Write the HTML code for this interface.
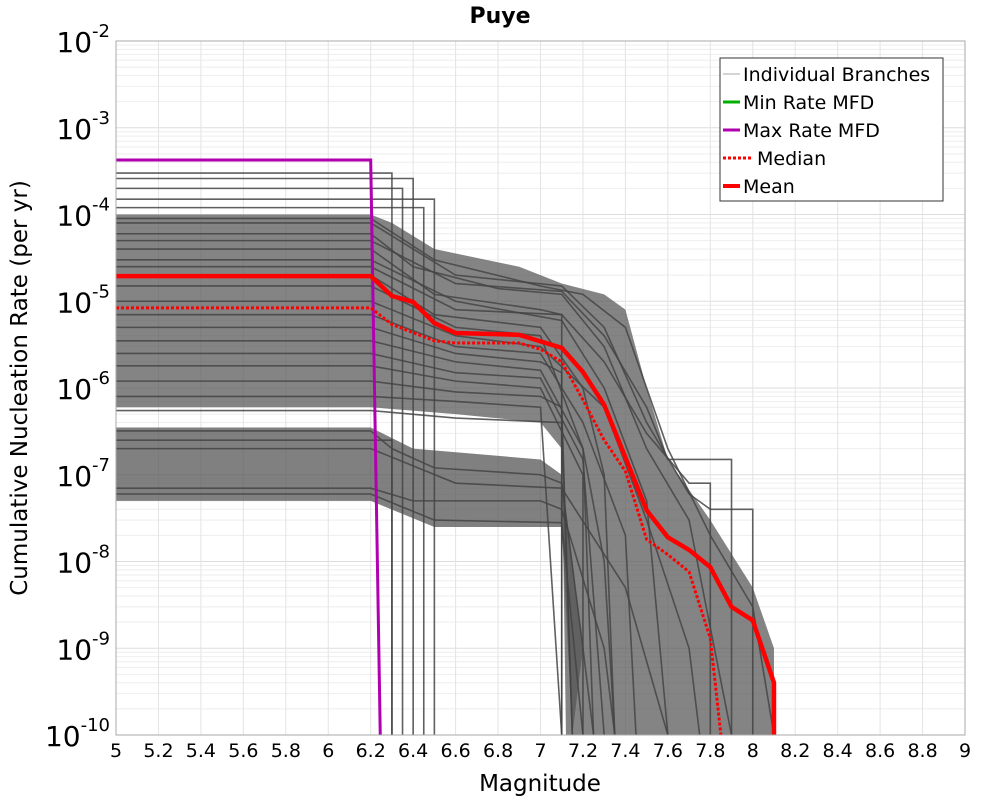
<!DOCTYPE html>
<html><head><meta charset="utf-8">
<style>
html,body{margin:0;padding:0;background:#fff;}
svg{display:block;font-family:"DejaVu Sans","Liberation Sans",sans-serif;}
</style></head>
<body>
<svg id="chart" width="1000" height="800" viewBox="0 0 1000 800" xmlns="http://www.w3.org/2000/svg">
<rect width="1000" height="800" fill="#fff"/>
<text x="500" y="23" text-anchor="middle" font-size="22" font-weight="bold">Puye</text>
<g id="grid"></g>
<g id="bands"></g>
<g id="branches"></g>
<g id="series"></g>
<rect x="116" y="41" width="849" height="694" fill="none" stroke="#aaa" stroke-width="1"/>
<g id="yticks"></g>
<g id="xticks"></g>
<text x="540" y="791" text-anchor="middle" font-size="23">Magnitude</text>
<text transform="translate(27,388) rotate(-90)" text-anchor="middle" font-size="23">Cumulative Nucleation Rate (per yr)</text>
<g>
<rect x="720" y="58" width="223" height="143" fill="#fff" stroke="#333" stroke-width="1"/>
<g><line x1="723" y1="74" x2="740" y2="74" stroke="#aaa" stroke-width="1"/><text x="743" y="81" font-size="19">Individual Branches</text></g>
<g><line x1="723" y1="102" x2="740" y2="102" stroke="#00b000" stroke-width="3"/><text x="743" y="109" font-size="19">Min Rate MFD</text></g>
<g><line x1="723" y1="130" x2="740" y2="130" stroke="#b000b0" stroke-width="3"/><text x="743" y="137" font-size="19">Max Rate MFD</text></g>
<g><line x1="723" y1="158" x2="752" y2="158" stroke="#f00" stroke-width="3" stroke-dasharray="3,2"/><text x="757" y="165" font-size="19">Median</text></g>
<g><line x1="723" y1="186" x2="740" y2="186" stroke="#f00" stroke-width="4"/><text x="743" y="193" font-size="19">Mean</text></g>
</g>
</svg>
<script>
const xTicks=[5,5.2,5.4,5.6,5.8,6,6.2,6.4,6.6,6.8,7,7.2,7.4,7.6,7.8,8,8.2,8.4,8.6,8.8,9];
const yExps=[-2,-3,-4,-5,-6,-7,-8,-9,-10];
const meanMag=[5,6.2,6.3,6.4,6.5,6.6,6.9,7.1,7.2,7.3,7.5,7.6,7.7,7.8,7.9,8.0,8.1,8.1];
const meanRate=[1.95e-5,1.95e-5,1.15e-5,9.8e-6,5.6e-6,4.3e-6,4.1e-6,2.9e-6,1.53e-6,6.4e-7,3.9e-8,1.9e-8,1.36e-8,8.6e-9,3.0e-9,2.1e-9,4.0e-10,1e-10];
const medMag=[5,6.2,6.3,6.5,6.6,6.9,7.0,7.1,7.2,7.3,7.4,7.5,7.6,7.7,7.8,7.85];
const medRate=[8.4e-6,8.4e-6,5.4e-6,3.5e-6,3.3e-6,3.3e-6,2.8e-6,2.0e-6,7.3e-7,2.5e-7,1.1e-7,1.8e-8,1.2e-8,7.6e-9,1.3e-9,1e-10];
const maxMag=[5,6.2,6.245];
const maxRate=[4.25e-4,4.25e-4,1e-10];
const mainBandTop=[[5,1e-4],[6.2,1e-4],[6.3,8e-5],[6.5,4e-5],[6.9,2.5e-5],[7.1,1.6e-5],[7.3,1.2e-5],[7.4,8e-6],[7.5,1e-6],[7.6,1.5e-7],[7.8,3e-8],[8.0,5e-9],[8.1,1e-9],[8.1,1e-10]];
const mainBandBottom=[[7.9,1e-10],[7.12,1e-10],[7.1,2e-7],[7.0,4e-7],[6.6,5e-7],[6.2,6e-7],[5,6e-7]];
const lowBandTop=[[5,3.5e-7],[6.2,3.5e-7],[6.4,2e-7],[7.0,1.5e-7],[7.1,1e-7],[7.2,1e-9]];
const lowBandBottom=[[7.15,1e-10],[7.1,2.5e-8],[6.5,2.5e-8],[6.2,5e-8],[5,5e-8]];
const branches=[
[[5,3e-4],[6.3,3e-4],[6.3,1e-10]],
[[5,2.6e-4],[6.4,2.6e-4],[6.4,1e-10]],
[[5,2e-4],[6.35,2e-4],[6.35,1e-10]],
[[5,1.5e-4],[6.5,1.5e-4],[6.5,1e-10]],
[[5,1.2e-4],[6.45,1.2e-4],[6.45,1e-10]],
[[5,9e-5],[6.2,9e-5],[6.5,3e-5],[7.0,1.5e-5],[7.2,1.2e-5],[7.4,5e-6],[7.6,2e-7],[7.8,2e-8],[8.0,3e-9],[8.1,1e-10]],
[[5,6e-5],[6.2,6e-5],[6.4,2.5e-5],[6.8,1.4e-5],[7.1,1.2e-5],[7.3,3e-6],[7.5,2e-7],[7.7,3e-8],[7.9,1e-10]],
[[5,4e-5],[6.2,4e-5],[6.5,1.2e-5],[7.0,8e-6],[7.1,7e-6],[7.1,1e-10]],
[[5,3e-5],[6.2,3e-5],[6.6,1e-5],[7.1,6e-6],[7.3,1e-6],[7.5,5e-8],[7.6,1e-10]],
[[5,2e-5],[6.2,2e-5],[6.5,7e-6],[7.0,5e-6],[7.2,1e-6],[7.3,1e-7],[7.35,1e-10]],
[[5,1.5e-5],[6.2,1.5e-5],[6.6,5e-6],[7.0,4e-6],[7.2,2e-7],[7.25,1e-10]],
[[5,1e-5],[6.2,1e-5],[6.6,4e-6],[7.0,3e-6],[7.3,6e-7],[7.5,3e-8],[7.7,1e-9],[7.75,1e-10]],
[[5,7e-6],[6.2,7e-6],[6.6,3e-6],[7.0,2.5e-6],[7.2,4e-7],[7.4,2e-8],[7.45,1e-10]],
[[5,5e-6],[6.2,5e-6],[6.6,2.5e-6],[7.0,2e-6],[7.1,1.5e-6],[7.1,1e-10]],
[[5,3.5e-6],[6.2,3.5e-6],[6.6,2e-6],[7.0,1.6e-6],[7.2,2e-7],[7.3,1e-8],[7.35,1e-10]],
[[5,2.5e-6],[6.2,2.5e-6],[6.6,1.5e-6],[7.0,1.3e-6],[7.2,1.5e-7],[7.3,1e-10]],
[[5,1.8e-6],[6.2,1.8e-6],[6.6,1.2e-6],[7.0,1e-6],[7.2,1e-7],[7.2,1e-10]],
[[5,1.2e-6],[6.2,1.2e-6],[6.6,9e-7],[7.0,8e-7],[7.1,6e-7],[7.15,1e-10]],
[[5,8e-7],[6.2,8e-7],[6.6,7e-7],[7.0,6e-7],[7.1,1e-10]],
[[5,5.5e-7],[6.2,5.5e-7],[6.6,4.5e-7],[7.1,4e-7],[7.15,1e-10]],
[[5,8e-5],[6.2,8e-5],[6.6,2e-5],[7.1,1.5e-5],[7.3,5e-6],[7.5,4e-7],[7.7,6e-8],[7.8,4e-8],[8.0,4e-8],[8.0,1e-10]],
[[5,5e-5],[6.2,5e-5],[6.6,1.6e-5],[7.1,1.3e-5],[7.3,4e-6],[7.5,6e-7],[7.6,1.5e-7],[7.9,1.5e-7],[7.9,1e-10]],
[[5,2.5e-5],[6.2,2.5e-5],[6.6,8e-6],[7.1,7e-6],[7.3,2e-6],[7.5,3e-7],[7.7,8e-8],[7.8,8e-8],[7.8,1e-10]],
[[5,3.2e-7],[6.2,3.2e-7],[6.3,2e-7],[6.5,1.2e-7],[7.0,1e-7],[7.1,8e-8],[7.2,1e-9],[7.25,1e-10]],
[[5,2.5e-7],[6.3,2.5e-7],[6.3,1e-10]],
[[5,7e-8],[6.2,7e-8],[6.4,5e-8],[7.0,5e-8],[7.1,4e-8],[7.3,1e-9],[7.35,1e-10]],
[[5,6e-8],[6.2,6e-8],[6.5,3e-8],[7.1,2.8e-8],[7.2,1e-10]],
[[5,2e-7],[6.2,2e-7],[6.6,8e-8],[7.1,7e-8],[7.4,5e-9],[7.6,1e-10]]
];
const NS='http://www.w3.org/2000/svg';
const X0=116,X1=965,Y0=41,Y1=735;
function xs(m){return X0+(m-5)/(9-5)*(X1-X0);}
function ys(r){return Y0+(-2-Math.log10(r))/8*(Y1-Y0);}
function mk(tag,parent,attrs){const e=document.createElementNS(NS,tag);for(const k in attrs)e.setAttribute(k,attrs[k]);parent.appendChild(e);return e;}
const grid=document.getElementById('grid');
for(let d=-10;d<-2;d++){for(let k=1;k<10;k++){const y=ys(k*Math.pow(10,d));const l=mk('line',grid,{x1:X0,x2:X1,y1:y,y2:y,stroke:k===1?'#ddd':'#eee','stroke-width':1});

}}
xTicks.forEach(t=>{const x=xs(t);const l=mk('line',grid,{x1:x,x2:x,y1:Y0,y2:Y1,stroke:'#e4e4e4','stroke-width':1});

});
const bands=document.getElementById('bands');
function poly(top,bot,op,name){const pts=top.concat(bot).map(p=>xs(p[0])+','+ys(p[1])).join(' ');const e=mk('polygon',bands,{points:pts,fill:'#555','fill-opacity':op});

}
poly(mainBandTop,mainBandBottom,0.72,'main-branch-band');
poly(lowBandTop,lowBandBottom,0.75,'low-branch-band');
const bg=document.getElementById('branches');
branches.forEach(b=>{const e=mk('polyline',bg,{points:b.map(p=>xs(p[0])+','+ys(p[1])).join(' '),fill:'none',stroke:'#444','stroke-opacity':0.85,'stroke-width':1.6});

});
const sg=document.getElementById('series');
function line(ms,rs,attrs,name){const pts=ms.map((m,i)=>xs(m)+','+ys(rs[i])).join(' ');const e=mk('polyline',sg,Object.assign({points:pts,fill:'none'},attrs));

}
line(maxMag,maxRate,{stroke:'#b000b0','stroke-width':3},'max-rate-line');
line(medMag,medRate,{stroke:'#f00','stroke-width':3,'stroke-dasharray':'3,2'},'median-line');
line(meanMag,meanRate,{stroke:'#f00','stroke-width':4.5,'stroke-linejoin':'round'},'mean-line');
const yt=document.getElementById('yticks');
yExps.forEach(e=>{const y=ys(Math.pow(10,e));const t=mk('text',yt,{x:110,y:y+11,'text-anchor':'end','font-size':28});


t.textContent='10';const s=mk('tspan',t,{dy:-15,'font-size':18});s.textContent=String(e);});
const xt=document.getElementById('xticks');
xTicks.forEach(v=>{const t=mk('text',xt,{x:xs(v),y:757,'text-anchor':'middle','font-size':19});


t.textContent=String(v);});
</script>
</body></html>
